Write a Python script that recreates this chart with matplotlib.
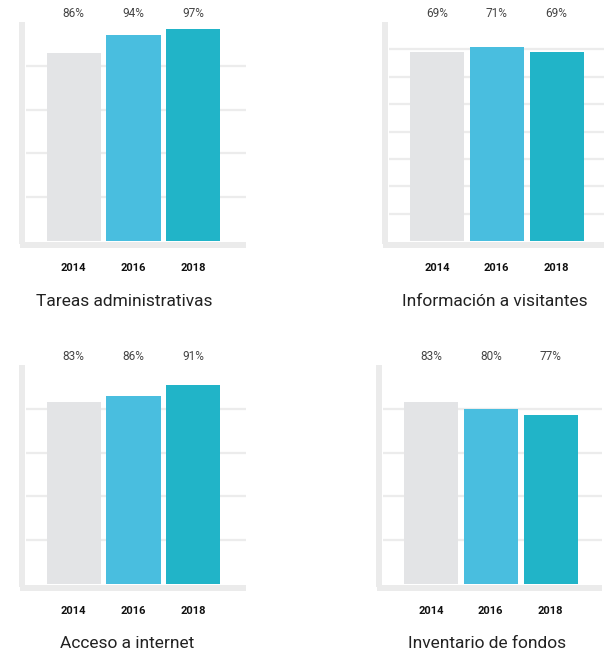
import numpy as np
import matplotlib

matplotlib.use("Agg")
import matplotlib.pyplot as plt

plt.rcParams["font.family"] = ["Roboto", "DejaVu Sans"]

years = ["2014", "2016", "2018"]
titles = ["Tareas administrativas", "Información a visitantes", "Acceso a internet", "Inventario de fondos"]
values = [
    [86, 94, 97],
    [69, 71, 69],
    [83, 86, 91],
    [83, 80, 77],
]
ymax = [100, 80, 100, 100]
gridstep = [20, 10, 20, 20]
colors = ["#e3e4e6", "#49bedf", "#21b4c8"]

W, H = 604, 660
# panel boxes in pixels: left, right, top, bottom(zero line)
boxes = [(26, 246, 22, 241), (389, 604, 22, 241), (26, 246, 365, 584), (383, 602, 365, 584)]
first_bar = [73.7, 437, 73.7, 431]
title_x = [124, 495, 127, 487]
title_y = [302, 302, 644, 644]
step = 59.8

fig = plt.figure(figsize=(W / 100, H / 100), dpi=100)

for i in range(4):
    l, r, t, b = boxes[i]
    hgt = b - t
    ax = fig.add_axes([l / W, 1 - b / H, (r - l) / W, hgt / H])
    x = np.arange(len(years))
    ax.bar(x, values[i], width=0.905, color=colors, zorder=2)
    x0 = -(first_bar[i] - l) / step
    x1 = x0 + (r - l) / step
    ax.set_xlim(x0, x1)
    ax.set_ylim(0, ymax[i])
    ax.set_yticks(np.arange(gridstep[i], ymax[i], gridstep[i]))
    ax.set_xticks([])
    ax.tick_params(axis="y", length=0, labelleft=False)
    ax.grid(axis="y", color="#ececec", linewidth=1.6, zorder=0)
    ax.set_axisbelow(True)
    for s in ["top", "right"]:
        ax.spines[s].set_visible(False)
    for s in ["left", "bottom"]:
        ax.spines[s].set_color("#ebebeb")
        ax.spines[s].set_linewidth(4.3)
        ax.spines[s].set_position(("outward", 3))
        ax.spines[s].set_capstyle("projecting")
    ax.spines["left"].set_bounds(0, ymax[i] * (1 - 3 / hgt))
    ax.spines["bottom"].set_bounds(x0 - 3 / step, x1 - 3 / step)
    for j, v in enumerate(values[i]):
        ax.text(j, 1 + 9 / hgt, f"{v}%", transform=ax.get_xaxis_transform(),
                ha="center", va="center", fontsize=8.5, color="#444444")
        ax.text(j, -27 / hgt, years[j], transform=ax.get_xaxis_transform(),
                ha="center", va="center", fontsize=8, fontweight="bold", color="#111111")
    fig.text(title_x[i] / W, 1 - title_y[i] / H, titles[i], ha="center", va="center",
             fontsize=12.5, color="#222222")

fig.savefig("out.png", dpi=100)
